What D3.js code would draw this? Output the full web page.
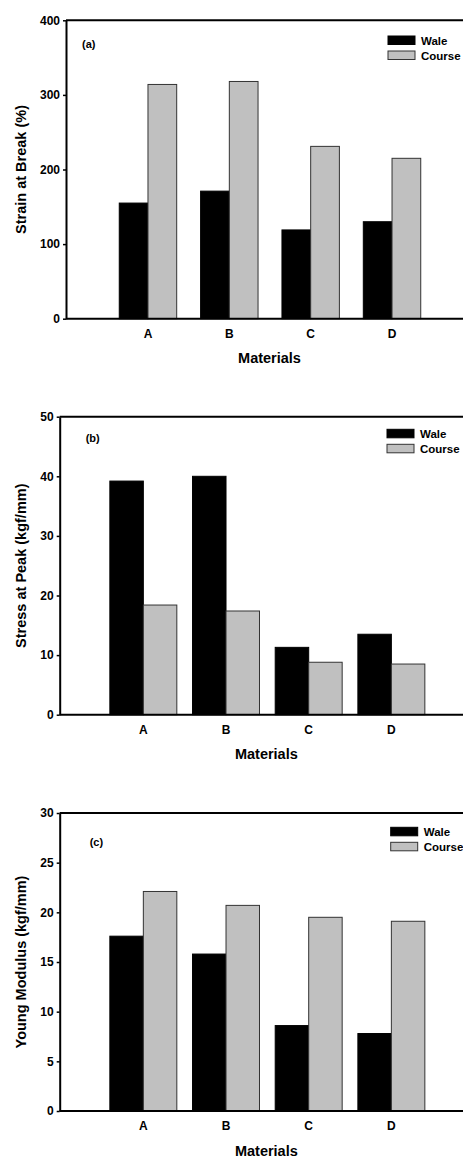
<!DOCTYPE html>
<html>
<head>
<meta charset="utf-8">
<script src="https://cdn.jsdelivr.net/npm/d3@7"></script>
<style>
  body { margin: 0; background: #fff; }
  svg { display: block; }
  text { font-family: "Liberation Sans", Arial, sans-serif; font-weight: bold; fill: #000; }
</style>
</head>
<body>
<svg id="chart" width="463" height="1158"></svg>
<script>
// categories and series
const materials = ["A", "B", "C", "D"];
const series = ["Wale", "Course"];

// (a) strain at break, %
const strainWale = [155, 171, 119, 130];
const strainCourse = [314, 318, 231, 215];
const strainTicks = [0, 100, 200, 300, 400];

// (b) stress at peak, kgf/mm
const stressWale = [39.2, 40.0, 11.3, 13.5];
const stressCourse = [18.4, 17.4, 8.8, 8.5];
const stressTicks = [0, 10, 20, 30, 40, 50];

// (c) young modulus, kgf/mm
const modulusWale = [17.6, 15.8, 8.6, 7.8];
const modulusCourse = [22.1, 20.7, 19.5, 19.1];
const modulusTicks = [0, 5, 10, 15, 20, 25, 30];

const colors = { Wale: "#000", Course: "#c0c0c0" };

const svg = d3.select("#chart");

const panels = [
  { tag: "(a)", title: "Strain at Break (%)", wale: strainWale, course: strainCourse, ticks: strainTicks,
    left: 66, right: 473, top: 20.3, bottom: 318.7, bandStart: 107.3, bandEnd: 432.7, pad: 0.294,
    tagX: 16, tagY: 27.7, legX: 388, legY: 15.7 },
  { tag: "(b)", title: "Stress at Peak (kgf/mm)", wale: stressWale, course: stressCourse, ticks: stressTicks,
    left: 59.7, right: 473, top: 416.7, bottom: 714.7, bandStart: 102, bandEnd: 432.7, pad: 0.19,
    tagX: 26, tagY: 25.5, legX: 387, legY: 12.6 },
  { tag: "(c)", title: "Young Modulus (kgf/mm)", wale: modulusWale, course: modulusCourse, ticks: modulusTicks,
    left: 59.7, right: 473, top: 813, bottom: 1111, bandStart: 102, bandEnd: 432.7, pad: 0.19,
    tagX: 30, tagY: 33, legX: 390.7, legY: 14.3 }
];

const drawPanel = (p) => {
  const g = svg.append("g");
  const values = { Wale: p.wale, Course: p.course };
  const rows = materials.map((m, i) => ({ m, Wale: values.Wale[i], Course: values.Course[i] }));

  const x = d3.scaleBand().domain(materials).range([p.bandStart, p.bandEnd])
    .paddingInner(p.pad).paddingOuter(p.pad / 2);
  const xs = d3.scaleBand().domain(series).range([0, x.bandwidth()]);
  const y = d3.scaleLinear().domain(d3.extent(p.ticks)).range([p.bottom, p.top]);

  // bars
  g.append("g")
    .selectAll("g")
    .data(rows)
    .join("g")
    .attr("transform", (d) => `translate(${x(d.m)},0)`)
    .selectAll("rect")
    .data((d) => series.map((s) => ({ s, v: d[s] })))
    .join("rect")
    .attr("x", (d) => xs(d.s))
    .attr("y", (d) => y(d.v))
    .attr("width", xs.bandwidth())
    .attr("height", (d) => y(0) - y(d.v))
    .attr("fill", (d) => colors[d.s])
    .attr("stroke", (d) => (d.s === "Course" ? "#333" : "#000"))
    .attr("stroke-width", 1);

  // frame: top and bottom lines
  g.append("line").attr("x1", p.left).attr("x2", p.right).attr("y1", p.top).attr("y2", p.top)
    .attr("stroke", "#000").attr("stroke-width", 2);
  g.append("line").attr("x1", p.left).attr("x2", p.right).attr("y1", p.bottom).attr("y2", p.bottom)
    .attr("stroke", "#000").attr("stroke-width", 2);

  // y axis
  const ya = g.append("g").attr("transform", `translate(${p.left},0)`)
    .call(d3.axisLeft(y).tickValues(p.ticks).tickSize(3).tickPadding(3).tickSizeOuter(0));
  ya.select(".domain").attr("stroke-width", 2);
  ya.selectAll(".tick line").attr("stroke-width", 1.5);
  ya.selectAll("text").style("font-size", "12px").style("font-family", null);

  // x axis labels
  const xa = g.append("g").attr("transform", `translate(0,${p.bottom})`)
    .call(d3.axisBottom(x).tickSize(0).tickPadding(10.5));
  xa.select(".domain").remove();
  xa.selectAll("text").style("font-size", "12px").style("font-family", null);

  // axis titles
  g.append("text")
    .attr("x", (p.left + p.right) / 2)
    .attr("y", p.bottom + 44.5)
    .attr("text-anchor", "middle")
    .style("font-size", "14.5px")
    .text("Materials");

  g.append("text")
    .attr("transform", `translate(26,${(p.top + p.bottom) / 2}) rotate(-90)`)
    .attr("text-anchor", "middle")
    .style("font-size", "14.5px")
    .text(p.title);

  // panel tag
  g.append("text")
    .attr("x", p.left + p.tagX)
    .attr("y", p.top + p.tagY)
    .style("font-size", "11px")
    .text(p.tag);

  // legend
  const leg = g.append("g").attr("transform", `translate(${p.legX},${p.top + p.legY})`);
  series.forEach((s, i) => {
    leg.append("rect")
      .attr("x", 0).attr("y", i * 15)
      .attr("width", 27).attr("height", 8.5)
      .attr("fill", colors[s])
      .attr("stroke", s === "Course" ? "#333" : "#000")
      .attr("stroke-width", 1);
    leg.append("text")
      .attr("x", 33).attr("y", i * 15 + 8.5)
      .style("font-size", "11.5px")
      .text(s);
  });
};

panels.forEach(drawPanel);
</script>
</body>
</html>
